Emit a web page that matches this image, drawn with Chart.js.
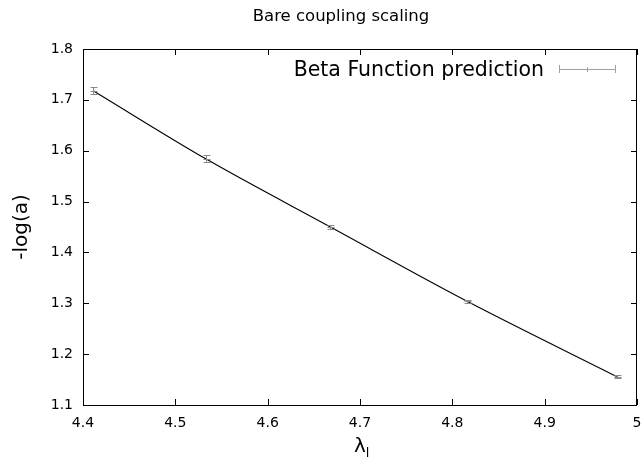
<!DOCTYPE html>
<html><head><meta charset="utf-8">
<script src="https://cdn.jsdelivr.net/npm/chart.js@4.4.0/dist/chart.umd.min.js"></script>
<style>html,body{margin:0;padding:0;background:#fff;}#wrap{width:642px;height:465px;}</style>
</head><body><div id="wrap"><canvas id="c" width="642" height="465"></canvas></div>
<script>
const titleText = "Bare coupling scaling";
const xLabelMain = "λ";
const xLabelSub = "l";
const yLabelText = "-log(a)";
const legendLabel = "Beta Function prediction";
const lambdaValues = [4.411, 4.533, 4.668, 4.816, 4.978];
const logAValues = [1.718, 1.584, 1.450, 1.304, 1.156];
const logAErrors = [0.0065, 0.007, 0.003, 0.003, 0.003];
const xTicks = [4.4, 4.5, 4.6, 4.7, 4.8, 4.9, 5.0];
const xTickLabels = ["4.4", "4.5", "4.6", "4.7", "4.8", "4.9", "5"];
const yTicks = [1.1, 1.2, 1.3, 1.4, 1.5, 1.6, 1.7, 1.8];
const yTickLabels = ["1.1", "1.2", "1.3", "1.4", "1.5", "1.6", "1.7", "1.8"];

const FONT = "'DejaVu Sans', sans-serif";
const pts = lambdaValues.map((x, i) => ({x: x, y: logAValues[i]}));

const overlay = {
  id: 'overlay',
  afterDraw(chart) {
    const ctx = chart.ctx, a = chart.chartArea;
    const xs = chart.scales.x, ys = chart.scales.y;
    ctx.save();
    // border
    ctx.strokeStyle = '#000'; ctx.lineWidth = 1;
    ctx.strokeRect(Math.round(a.left) + 0.5, Math.round(a.top) + 0.5, Math.round(a.right - a.left) - 1, Math.round(a.bottom - a.top));
    // ticks (mirrored, inward)
    const tl = 6;
    ctx.beginPath();
    xTicks.forEach(v => {
      const px = Math.round(xs.getPixelForValue(v)) + 0.5;
      ctx.moveTo(px, a.bottom); ctx.lineTo(px, a.bottom - tl);
      ctx.moveTo(px, a.top); ctx.lineTo(px, a.top + tl);
    });
    yTicks.forEach(v => {
      const py = Math.round(ys.getPixelForValue(v)) + 0.5;
      ctx.moveTo(a.left, py); ctx.lineTo(a.left + tl, py);
      ctx.moveTo(a.right, py); ctx.lineTo(a.right - tl, py);
    });
    ctx.stroke();
    // tick labels
    ctx.fillStyle = '#000';
    ctx.font = '14px ' + FONT;
    ctx.textAlign = 'center'; ctx.textBaseline = 'middle';
    xTicks.forEach((v, i) => {
      ctx.fillText(xTickLabels[i], xs.getPixelForValue(v), 423);
    });
    ctx.textAlign = 'right';
    yTicks.forEach((v, i) => {
      ctx.fillText(yTickLabels[i], 73, ys.getPixelForValue(v));
    });
    // error bars
    ctx.strokeStyle = '#8a8a8a'; ctx.lineWidth = 1;
    ctx.beginPath();
    lambdaValues.forEach((x, i) => {
      const px = Math.round(xs.getPixelForValue(x)) + 0.5;
      const yt = Math.round(ys.getPixelForValue(logAValues[i] + logAErrors[i])) + 0.5;
      const yb = Math.round(ys.getPixelForValue(logAValues[i] - logAErrors[i])) + 0.5;
      const yc = Math.round(ys.getPixelForValue(logAValues[i])) + 0.5;
      ctx.moveTo(px, yt); ctx.lineTo(px, yb);
      ctx.moveTo(px - 3, yt); ctx.lineTo(px + 4, yt);
      ctx.moveTo(px - 3, yb); ctx.lineTo(px + 4, yb);
      ctx.moveTo(px - 3, yc); ctx.lineTo(px + 4, yc);
    });
    ctx.stroke();
    // legend
    ctx.fillStyle = '#000';
    ctx.font = '20.5px ' + FONT;
    ctx.textAlign = 'right'; ctx.textBaseline = 'alphabetic';
    ctx.fillText(legendLabel, 544, 76);
    ctx.strokeStyle = '#a0a0a0';
    ctx.beginPath();
    ctx.moveTo(559, 69.5); ctx.lineTo(616, 69.5);
    ctx.moveTo(559.5, 65); ctx.lineTo(559.5, 73);
    ctx.moveTo(615.5, 65); ctx.lineTo(615.5, 73);
    ctx.moveTo(587.5, 67); ctx.lineTo(587.5, 72);
    ctx.stroke();
    // title
    ctx.fillStyle = '#000';
    ctx.textAlign = 'center'; ctx.textBaseline = 'alphabetic';
    ctx.font = '16.5px ' + FONT;
    ctx.fillText(titleText, 341, 21);
    // x label
    ctx.font = '20px ' + FONT;
    ctx.textAlign = 'left'; ctx.textBaseline = 'alphabetic';
    const w = ctx.measureText(xLabelMain).width;
    ctx.fillText(xLabelMain, 354, 452);
    ctx.font = '13px ' + FONT;
    ctx.fillText(xLabelSub, 354 + w, 457);
    // y label
    ctx.font = '20px ' + FONT;
    ctx.translate(22, 227); ctx.rotate(-Math.PI / 2);
    ctx.textAlign = 'center'; ctx.textBaseline = 'middle';
    ctx.fillText(yLabelText, 0, 0);
    ctx.restore();
  }
};

new Chart(document.getElementById('c'), {
  type: 'scatter',
  data: {
    datasets: [
      {label: 'fit', data: pts, showLine: true, borderColor: '#000', borderWidth: 1.1,
       pointRadius: 0, cubicInterpolationMode: 'monotone', fill: false},
      {label: legendLabel, data: pts, pointRadius: 0, showLine: false}
    ]
  },
  options: {
    responsive: false, animation: false, devicePixelRatio: 1,
    layout: {padding: {left: 0, top: 49, right: 5, bottom: 0}},
    plugins: {legend: {display: false}, title: {display: false}, tooltip: {enabled: false}},
    scales: {
      x: {type: 'linear', min: 4.4, max: 5.0,
          afterBuildTicks: s => { s.ticks = xTicks.map(v => ({value: v})); },
          afterFit: s => { s.height = 60; },
          grid: {display: false, drawTicks: false}, border: {display: false},
          ticks: {display: false}},
      y: {type: 'linear', min: 1.1, max: 1.8,
          afterBuildTicks: s => { s.ticks = yTicks.map(v => ({value: v})); },
          afterFit: s => { s.width = 83; },
          grid: {display: false, drawTicks: false}, border: {display: false},
          ticks: {display: false}}
    }
  },
  plugins: [overlay]
});
</script></body></html>
